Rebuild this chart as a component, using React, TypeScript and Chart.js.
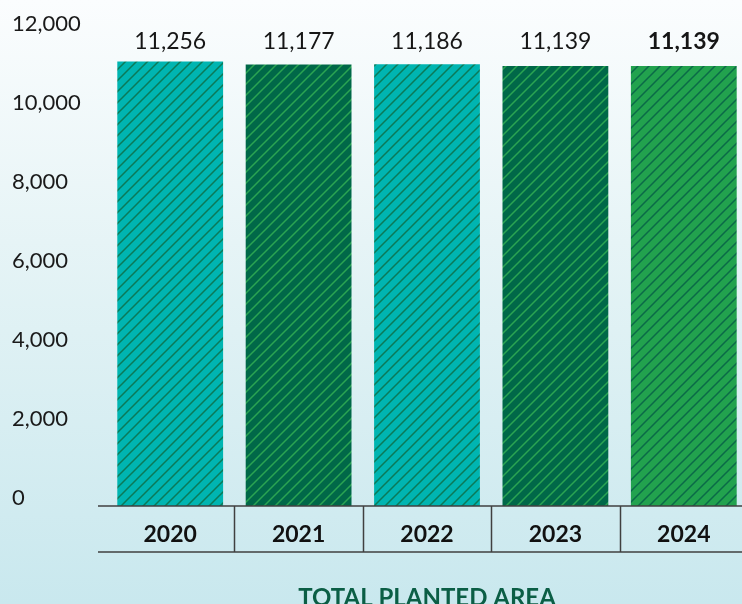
import React, { useEffect, useRef } from "react";
import { Chart, registerables } from "chart.js";

Chart.register(...registerables);

const years = ["2020", "2021", "2022", "2023", "2024"];
const plantedArea = [11256, 11177, 11186, 11139, 11139];
const yTicks = [0, 2000, 4000, 6000, 8000, 10000, 12000];
const titleText = "TOTAL PLANTED AREA";
const highlightIndex = 4;

const fillColors = ["#00b5b1", "#006848", "#00b5b1", "#006848", "#22a24e"];
const hatchColors = ["#0b7a58", "#2aa452", "#0b7a58", "#2aa452", "#0b6a48"];

const FONT = "Lato, 'Noto Sans', sans-serif";

function makePattern(bg: string, fg: string): CanvasPattern | string {
  const s = 11;
  const c = document.createElement("canvas");
  c.width = s;
  c.height = s;
  const ctx = c.getContext("2d");
  if (!ctx) return bg;
  ctx.fillStyle = bg;
  ctx.fillRect(0, 0, s, s);
  ctx.strokeStyle = fg;
  ctx.lineWidth = 1.5;
  ctx.beginPath();
  ctx.moveTo(-1, s + 1);
  ctx.lineTo(s + 1, -1);
  ctx.moveTo(-s / 2 - 1, s / 2 + 1);
  ctx.lineTo(s / 2 + 1, -s / 2 - 1);
  ctx.moveTo(s / 2 - 1, s * 1.5 + 1);
  ctx.lineTo(s * 1.5 + 1, s / 2 - 1);
  ctx.stroke();
  const p = ctx.createPattern(c, "repeat");
  return p || bg;
}

const tablePlugin = {
  id: "tablePlugin",
  afterDraw(chart: any) {
    const ctx = chart.ctx;
    const area = chart.chartArea;
    const x = chart.scales.x;
    const meta = chart.getDatasetMeta(0);
    const n = years.length;
    const half = (x.getPixelForValue(1) - x.getPixelForValue(0)) / 2;
    const rowBottom = area.bottom + 46;
    ctx.save();
    // value labels
    ctx.textAlign = "center";
    ctx.textBaseline = "middle";
    meta.data.forEach((bar: any, i: number) => {
      ctx.font = (i === highlightIndex ? "bold " : "") + "23px " + FONT;
      ctx.fillStyle = "#161616";
      ctx.fillText(plantedArea[i].toLocaleString("en-US"), bar.x, area.top + 10);
    });
    // table lines
    ctx.strokeStyle = "#404040";
    ctx.lineWidth = 1.5;
    ctx.beginPath();
    const left = 98;
    const right = chart.width;
    ctx.moveTo(left, area.bottom);
    ctx.lineTo(right, area.bottom);
    ctx.moveTo(left, rowBottom);
    ctx.lineTo(right, rowBottom);
    for (let i = 0; i < n - 1; i++) {
      const bx = Math.round(x.getPixelForValue(i) + half) + 0.5;
      ctx.moveTo(bx, area.bottom);
      ctx.lineTo(bx, rowBottom);
    }
    ctx.stroke();
    // title
    ctx.font = "bold 24px " + FONT;
    ctx.fillStyle = "#0b5e45";
    ctx.textBaseline = "alphabetic";
    ctx.fillText(titleText, (area.left + area.right) / 2, rowBottom + 54);
    ctx.restore();
  },
};

export default function App() {
  const ref = useRef<HTMLCanvasElement | null>(null);
  useEffect(() => {
    if (!ref.current) return;
    const patterns = fillColors.map((c, i) => makePattern(c, hatchColors[i]));
    const chart = new Chart(ref.current, {
      type: "bar",
      data: {
        labels: years,
        datasets: [
          {
            data: plantedArea,
            backgroundColor: patterns as any,
            borderWidth: 0,
            categoryPercentage: 1,
            barPercentage: 0.824,
          },
        ],
      },
      options: {
        animation: false,
        responsive: false,
        maintainAspectRatio: false,
        layout: { padding: { left: 12, right: 12, top: 32, bottom: 0 } },
        plugins: {
          legend: { display: false },
          tooltip: { enabled: false },
          title: { display: false },
        },
        scales: {
          x: {
            grid: { display: false, drawTicks: false },
            border: { display: false },
            ticks: {
              color: "#111111",
              font: { family: FONT, size: 23, weight: "bold" },
              padding: 15,
              maxRotation: 0,
            },
            afterFit(scale: any) {
              scale.height = 98;
            },
          },
          y: {
            min: 0,
            max: 12000,
            afterBuildTicks(scale: any) {
              scale.ticks = yTicks.map((v) => ({ value: v }));
            },
            grid: { display: false, drawTicks: false },
            border: { display: false },
            ticks: {
              color: "#1a1a1a",
              font: { family: FONT, size: 22 },
              crossAlign: "far",
              labelOffset: -8,
              padding: 0,
              callback: (v: any) => Number(v).toLocaleString("en-US"),
            },
            afterFit(scale: any) {
              scale.width = 94;
            },
          },
        },
      },
      plugins: [tablePlugin],
    });
    return () => chart.destroy();
  }, []);
  return (
    <div
      style={{
        position: "fixed",
        left: 0,
        top: 0,
        width: 742,
        height: 604,
        overflow: "hidden",
        background: "linear-gradient(to bottom, #fbfdfe 0%, #e6f4f6 40%, #c9e8ee 100%)",
      }}
    >
      <canvas ref={ref} width={760} height={604} style={{ display: "block", width: 760, height: 604 }} />
    </div>
  );
}
